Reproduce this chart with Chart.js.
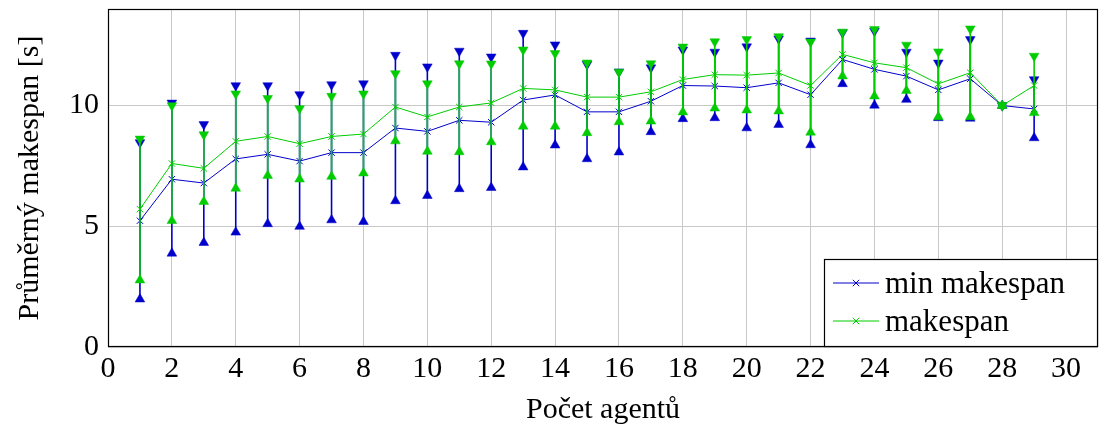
<!DOCTYPE html>
<html><head><meta charset="utf-8">
<script src="https://cdn.jsdelivr.net/npm/chart.js@4/dist/chart.umd.min.js"></script>
<style>html,body{margin:0;padding:0;background:#fff}</style>
</head><body>
<canvas id="c" width="1099" height="430"></canvas>
<script>
const agents = [1,2,3,4,5,6,7,8,9,10,11,12,13,14,15,16,17,18,19,20,21,22,23,24,25,26,27,28,29];

const minMean = [5.23,6.95,6.79,7.79,7.98,7.70,8.05,8.05,9.07,8.93,9.39,9.31,10.23,10.44,9.74,9.74,10.18,10.83,10.81,10.74,10.94,10.45,11.91,11.50,11.22,10.65,11.11,10.00,9.86];
const minLow  = [1.98,3.88,4.32,4.75,5.10,4.99,5.26,5.19,6.05,6.27,6.55,6.60,7.45,8.36,7.79,8.07,8.91,9.45,9.49,9.07,9.21,8.37,10.90,10.01,10.25,9.49,9.47,10.00,8.66];
const minHigh = [8.47,10.11,9.22,10.83,10.83,10.46,10.87,10.91,12.09,11.61,12.26,12.02,13.00,12.52,11.71,11.40,11.57,12.31,12.22,12.44,12.77,12.68,13.02,13.09,12.22,11.77,12.74,10.00,11.08];

const mkMean = [5.71,7.60,7.40,8.52,8.72,8.42,8.72,8.82,9.94,9.53,9.94,10.11,10.71,10.65,10.35,10.35,10.57,11.08,11.28,11.26,11.35,10.83,12.12,11.77,11.57,10.90,11.36,10.00,10.83];
const mkLow  = [2.77,5.23,6.02,6.57,7.10,6.95,7.06,7.20,8.53,8.10,8.08,8.49,9.14,9.14,8.87,9.32,9.35,9.73,9.89,9.81,9.77,8.89,11.22,10.39,10.62,9.53,9.53,10.00,9.70];
const mkHigh = [8.62,10.00,8.80,10.49,10.30,9.88,10.39,10.49,11.33,10.91,11.74,11.73,12.31,12.16,11.77,11.39,11.74,12.43,12.65,12.74,12.86,12.64,13.05,13.16,12.51,12.23,13.18,10.00,12.05];

const xTicks = [0,2,4,6,8,10,12,14,16,18,20,22,24,26,28,30];
const yTicks = [0,5,10];
const xTitle = 'Počet agentů';
const yTitle = 'Průměrný makespan [s]';
const seriesNames = ['min makespan','makespan'];

const BLUE = '#0000cc';
const GREEN = '#00cc00';
const FONT = "'Liberation Serif', 'DejaVu Serif', serif";

const pts = (ys) => agents.map((a, i) => ({x: a, y: ys[i]}));

const errorBars = {
  id: 'errorBars',
  beforeDatasetDraw(chart, args) {
    const ds = chart.data.datasets[args.index];
    if (!ds.errLow) return;
    const ctx = chart.ctx, xs = chart.scales.x, ys = chart.scales.y;
    ctx.save();
    ctx.strokeStyle = ds.borderColor;
    ctx.lineWidth = 1.6;
    agents.forEach((a, i) => {
      const px = xs.getPixelForValue(a);
      ctx.beginPath();
      ctx.moveTo(px, ys.getPixelForValue(ds.errLow[i]));
      ctx.lineTo(px, ys.getPixelForValue(ds.errHigh[i]));
      ctx.stroke();
    });
    ctx.restore();
  }
};

const frame = {
  id: 'frame',
  beforeDatasetsDraw(chart) {
    const {ctx, chartArea: a} = chart;
    ctx.save();
    ctx.strokeStyle = '#000';
    ctx.lineWidth = 1.2;
    const l = Math.round(a.left) + 0.5, t = Math.round(a.top) + 0.5;
    const r = Math.round(a.right) - 0.5, b = Math.round(a.bottom) - 0.5;
    ctx.strokeRect(l, t, r - l, b - t);
    ctx.restore();
  }
};

const legendBox = {
  id: 'legendBox',
  afterDraw(chart) {
    const {ctx, chartArea: a} = chart;
    const w = 273, h = 87;
    const x0 = Math.round(a.right) - 1 - w, y0 = Math.round(a.bottom) - 1 - h;
    ctx.save();
    ctx.fillStyle = '#fff';
    ctx.fillRect(x0, y0, w, h);
    ctx.strokeStyle = '#000';
    ctx.lineWidth = 1.2;
    ctx.strokeRect(x0 + 0.5, y0 + 0.5, w, h);
    const cols = [BLUE, GREEN];
    seriesNames.forEach((name, i) => {
      const ly = y0 + 24 + i * 38;
      ctx.strokeStyle = cols[i];
      ctx.lineWidth = 1;
      ctx.beginPath();
      ctx.moveTo(x0 + 9, ly);
      ctx.lineTo(x0 + 55, ly);
      ctx.stroke();
      ctx.fillStyle = cols[i];
      Chart.helpers.drawPoint(ctx, {pointStyle: 'crossRot', radius: 4.5, borderWidth: 1, rotation: 0}, x0 + 32, ly);
      ctx.fillStyle = '#000';
      ctx.font = '31px ' + FONT;
      ctx.textBaseline = 'alphabetic';
      ctx.textAlign = 'left';
      ctx.fillText(name, x0 + 61, ly + 10);
    });
    ctx.restore();
  }
};

const triDs = (ys, color, up, order, err) => Object.assign({
  data: pts(ys), showLine: false, order: order,
  pointStyle: 'triangle', pointRadius: 5.6, pointHoverRadius: 5.6,
  pointRotation: up ? 0 : 180,
  pointBackgroundColor: color, pointBorderColor: color, pointBorderWidth: 0.5,
  borderColor: color, backgroundColor: color, clip: false
}, err || {});

const lineDs = (ys, color, order) => ({
  data: pts(ys), order: order, showLine: true,
  borderColor: color, backgroundColor: color, borderWidth: 1,
  pointStyle: 'crossRot', pointRadius: 4.5, pointHoverRadius: 4.5,
  pointBorderWidth: 1, pointBorderColor: color, tension: 0, clip: false
});

new Chart(document.getElementById('c'), {
  type: 'scatter',
  data: {
    datasets: [
      triDs(minLow, BLUE, true, 9, {errLow: minLow, errHigh: minHigh}),
      triDs(minHigh, BLUE, false, 8),
      lineDs(minMean, BLUE, 7),
      triDs(mkLow, GREEN, true, 6, {errLow: mkLow, errHigh: mkHigh}),
      triDs(mkHigh, GREEN, false, 5),
      lineDs(mkMean, GREEN, 4)
    ]
  },
  options: {
    responsive: false, animation: false, devicePixelRatio: 1, events: [],
    layout: {autoPadding: false, padding: {top: 9, right: 1, left: 0, bottom: 0}},
    plugins: {legend: {display: false}, tooltip: {enabled: false}},
    scales: {
      x: {
        type: 'linear', min: 0, max: 31,
        afterBuildTicks: (s) => { s.ticks = xTicks.map(v => ({value: v})); },
        afterFit: (s) => { s.height = 83; s.paddingLeft = 0; s.paddingRight = 0; },
        border: {display: false},
        grid: {color: '#c8c8c8', lineWidth: 1, drawTicks: false},
        ticks: {color: '#000', padding: 7, maxRotation: 0, autoSkip: false,
                font: {family: FONT, size: 30, lineHeight: 1}},
        title: {display: true, text: xTitle, color: '#000',
                font: {family: FONT, size: 30, lineHeight: 1}, padding: {top: 0, bottom: 5}}
      },
      y: {
        type: 'linear', min: 0, max: 14,
        afterBuildTicks: (s) => { s.ticks = yTicks.map(v => ({value: v})); },
        afterFit: (s) => { s.width = 108; s.paddingTop = 0; s.paddingBottom = 0; },
        border: {display: false},
        grid: {color: '#c8c8c8', lineWidth: 1, drawTicks: false},
        ticks: {color: '#000', padding: 9, font: {family: FONT, size: 30, lineHeight: 1}},
        title: {display: true, text: yTitle, color: '#000',
                font: {family: FONT, size: 30, lineHeight: 1}, padding: {top: 15, bottom: 0}}
      }
    }
  },
  plugins: [errorBars, frame, legendBox]
});
</script>
</body></html>
